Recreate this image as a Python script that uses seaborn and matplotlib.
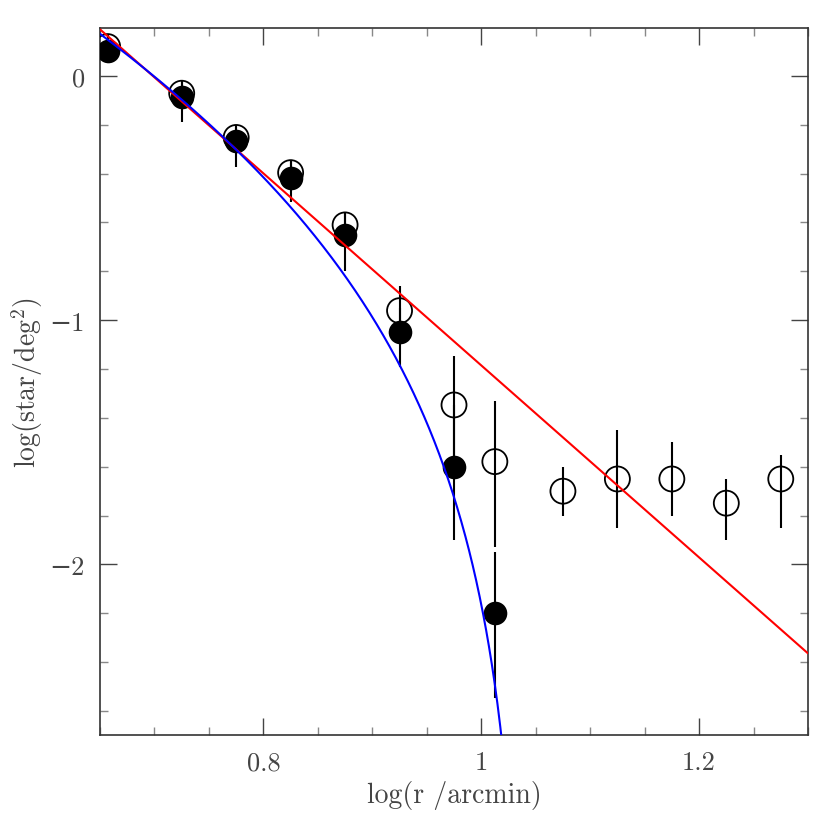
import numpy as np
import pandas as pd
import matplotlib
matplotlib.use("Agg")
import matplotlib.pyplot as plt
from matplotlib.ticker import FixedLocator, MultipleLocator
import seaborn as sns

# radial density profile, all values in log10
x_open = [0.657, 0.725, 0.775, 0.825, 0.875, 0.925, 0.975, 1.0125, 1.075, 1.125, 1.175, 1.225, 1.275]
y_open = [0.12, -0.071, -0.252, -0.396, -0.610, -0.961, -1.347, -1.579, -1.70, -1.65, -1.65, -1.749, -1.65]
up_open = [0.05, 0.05, 0.05, 0.05, 0.05, 0.10, 0.20, 0.247, 0.10, 0.20, 0.15, 0.10, 0.10]
dn_open = [0.05, 0.05, 0.05, 0.05, 0.05, 0.10, 0.25, 0.35, 0.10, 0.20, 0.15, 0.15, 0.20]

x_fill = [0.657, 0.725, 0.775, 0.825, 0.875, 0.925, 0.975, 1.0125]
y_fill = [0.101, -0.087, -0.265, -0.42, -0.651, -1.049, -1.599, -2.198]
up_fill = [0.04, 0.065, 0.06, 0.07, 0.09, 0.10, 0.25, 0.248]
dn_fill = [0.04, 0.10, 0.106, 0.097, 0.146, 0.143, 0.30, 0.349]

# power law fit (red) and King profile (blue)
pl_intercept, pl_slope = 2.745, -3.93
king_logk, king_rc, king_rt = 2.974, 0.3, 10.99

x_ticks = [0.8, 1.0, 1.2]
x_ticklabels = ["0.8", "1", "1.2"]
y_ticks = [0, -1, -2]
y_ticklabels = ["0", "\u22121", "\u22122"]

sns.set_theme(style="ticks")
plt.rcParams["font.family"] = ["cmr10", "DejaVu Serif"]
plt.rcParams["mathtext.fontset"] = "cm"
plt.rcParams["axes.unicode_minus"] = False

fig = plt.figure(figsize=(8.3, 8.29), dpi=100)
ax = fig.add_axes([0.1205, 0.1116, 0.853, 0.8534])

ax.errorbar(x_open, y_open, yerr=[dn_open, up_open], fmt="none", ecolor="black",
            elinewidth=1.5, capsize=0, zorder=2)
ax.errorbar(x_fill, y_fill, yerr=[dn_fill, up_fill], fmt="none", ecolor="black",
            elinewidth=1.5, capsize=0, zorder=2)

df_open = pd.DataFrame({"x": x_open, "y": y_open})
df_fill = pd.DataFrame({"x": x_fill, "y": y_fill})
sns.scatterplot(data=df_open, x="x", y="y", ax=ax, marker="o", s=18 ** 2,
                facecolors="none", edgecolor="black", linewidth=1.3, zorder=3)
sns.scatterplot(data=df_fill, x="x", y="y", ax=ax, marker="o", s=17 ** 2,
                color="black", edgecolor="black", linewidth=0, zorder=4)

xg = np.linspace(0.65, 1.3, 300)
sns.lineplot(x=xg, y=pl_intercept + pl_slope * xg, ax=ax, color="#ff0000",
             linewidth=1.5, zorder=5)

xk = np.linspace(0.65, np.log10(king_rt) - 1e-6, 600)
r = 10 ** xk
u = 1 / np.sqrt(1 + (r / king_rc) ** 2)
ut = 1 / np.sqrt(1 + (king_rt / king_rc) ** 2)
yk = king_logk + 2 * np.log10(u - ut)
sns.lineplot(x=xk, y=yk, ax=ax, color="#0000ff", linewidth=1.5, zorder=5)

ax.set_xlim(0.65, 1.3)
ax.set_ylim(-2.7, 0.196)

ax.xaxis.set_major_locator(FixedLocator(x_ticks))
ax.set_xticklabels(x_ticklabels)
ax.xaxis.set_minor_locator(MultipleLocator(0.05))
ax.yaxis.set_major_locator(FixedLocator(y_ticks))
ax.set_yticklabels(y_ticklabels)
ax.yaxis.set_minor_locator(MultipleLocator(0.2))

ax.tick_params(which="both", direction="in", top=True, right=True,
               colors="#444444", labelcolor="#444444", labelsize=19, pad=11)
ax.tick_params(which="major", length=12, width=1.0)
ax.tick_params(which="minor", length=6, width=1.0, colors="#888888")
for sp in ax.spines.values():
    sp.set_color("#333333")
    sp.set_linewidth(1.2)

ax.set_xlabel("log(r /arcmin)", fontsize=20, color="#444444", labelpad=4)
ax.set_ylabel(r"log(star/deg$^2$)", fontsize=20, color="#444444")
ax.yaxis.set_label_coords(-0.078, 0.5)

fig.savefig("out.png", dpi=100)
